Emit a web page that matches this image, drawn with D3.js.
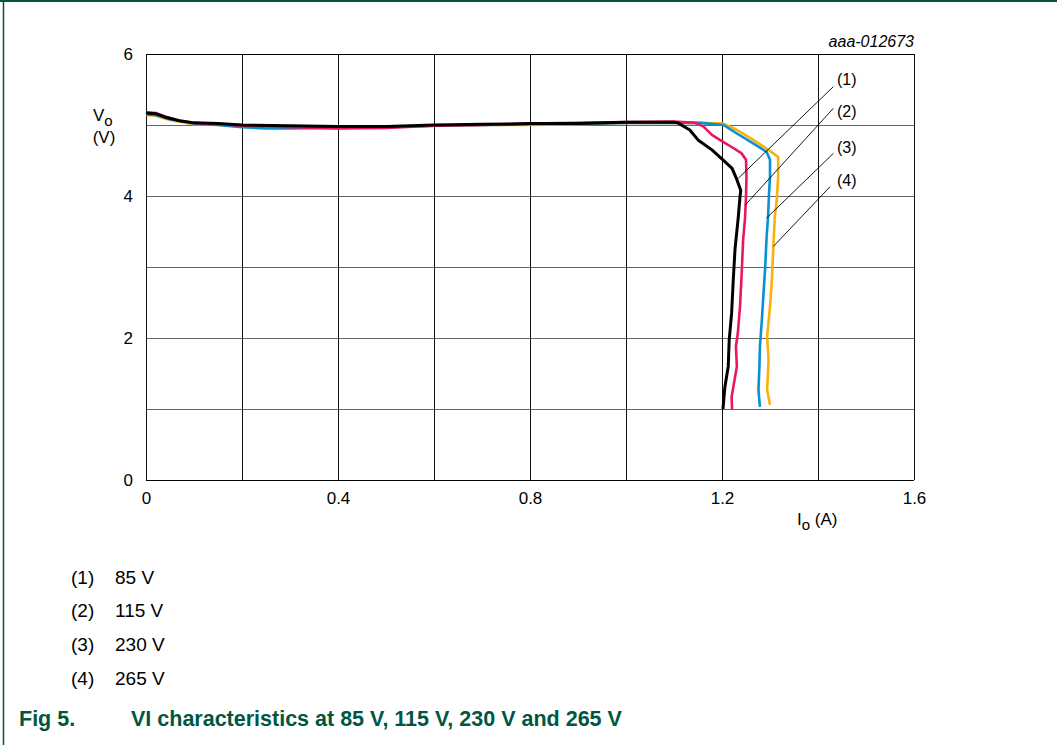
<!DOCTYPE html>
<html>
<head>
<meta charset="utf-8">
<script src="https://cdn.jsdelivr.net/npm/d3@7"></script>
<style>
  html, body { margin: 0; padding: 0; background: #fff; }
  svg { display: block; font-family: Arial, "Liberation Sans", Helvetica, sans-serif; }
</style>
</head>
<body>
<svg id="chart" width="1057" height="745"></svg>
<script>
// ---- data ----
const xTickLabels = [0, 0.4, 0.8, 1.2, 1.6];
const yTickLabels = [0, 2, 4, 6];
const xGrid = [0, 0.2, 0.4, 0.6, 0.8, 1.0, 1.2, 1.4, 1.6];
const yGrid = [0, 1, 2, 3, 4, 5, 6];

const seriesNames = ["(1)", "(2)", "(3)", "(4)"];
const seriesVoltages = ["85 V", "115 V", "230 V", "265 V"];
const seriesColors = ["#000000", "#ea1660", "#0a90d4", "#f8b10d"];

// [Io (A), Vo (V)]
const curve85 = [[0,5.17],[0.02,5.16],[0.04,5.11],[0.07,5.06],[0.1,5.03],[0.15,5.02],[0.2,5.0],[0.3,4.99],[0.4,4.98],[0.5,4.98],[0.6,5.0],[0.7,5.01],[0.8,5.02],[0.9,5.02],[1.0,5.04],[1.1,5.04],[1.108,5.03],[1.133,4.93],[1.15,4.79],[1.179,4.65],[1.202,4.51],[1.221,4.39],[1.231,4.23],[1.239,4.08],[1.2375,3.99],[1.234,3.71],[1.227,3.24],[1.2235,2.82],[1.22,2.35],[1.215,1.97],[1.213,1.6],[1.206,1.31],[1.202,1.0]];
const curve115 = [[0,5.18],[0.02,5.17],[0.04,5.12],[0.07,5.06],[0.1,5.03],[0.15,5.01],[0.2,4.99],[0.3,4.97],[0.4,4.95],[0.5,4.96],[0.6,4.99],[0.7,5.0],[0.8,5.02],[0.9,5.03],[1.0,5.04],[1.1,5.05],[1.144,5.03],[1.161,4.98],[1.179,4.86],[1.203,4.76],[1.22,4.69],[1.241,4.6],[1.25,4.51],[1.251,4.27],[1.25,3.99],[1.248,3.69],[1.244,3.38],[1.241,2.91],[1.2375,2.44],[1.233,2.07],[1.229,1.88],[1.231,1.6],[1.22,1.17],[1.221,0.99]];
const curve230 = [[0,5.15],[0.02,5.14],[0.05,5.08],[0.1,5.02],[0.15,5.0],[0.2,4.97],[0.25,4.95],[0.3,4.95],[0.4,4.96],[0.5,4.97],[0.6,4.99],[0.7,5.0],[0.8,5.01],[0.9,5.02],[1.0,5.03],[1.1,5.03],[1.154,5.03],[1.203,5.0],[1.231,4.88],[1.265,4.74],[1.293,4.62],[1.3,4.51],[1.3,4.27],[1.298,4.04],[1.296,3.71],[1.293,3.43],[1.29,3.0],[1.286,2.58],[1.283,2.25],[1.279,1.88],[1.278,1.6],[1.276,1.27],[1.279,1.03]];
const curve265 = [[0,5.14],[0.02,5.13],[0.05,5.07],[0.1,5.01],[0.15,5.0],[0.2,4.98],[0.3,4.97],[0.4,4.96],[0.5,4.97],[0.6,4.99],[0.7,5.0],[0.8,5.0],[0.9,5.01],[1.0,5.03],[1.1,5.03],[1.154,5.03],[1.203,5.02],[1.231,4.93],[1.265,4.79],[1.297,4.65],[1.317,4.55],[1.317,4.27],[1.314,3.94],[1.31,3.71],[1.307,3.29],[1.304,2.82],[1.3,2.44],[1.294,2.02],[1.297,1.69],[1.294,1.27],[1.3,1.06]];
const curves = [curve85, curve115, curve230, curve265];

// leader lines: [label anchor Io, Vo] -> [curve point Io, Vo]
const leaderStart = [[1.432,5.54],[1.432,5.235],[1.432,4.60],[1.425,4.13]];
const leaderEnd   = [[1.234,4.25],[1.248,3.87],[1.293,3.69],[1.307,3.29]];
const labelPos    = [[1.46,5.64],[1.46,5.185],[1.46,4.69],[1.46,4.22]];

const figNumber = "Fig 5.";
const figTitle = "VI characteristics at 85 V, 115 V, 230 V and 265 V";
const chartCode = "aaa-012673";

// ---- drawing ----
const svg = d3.select("#chart");
const green = "#00573f";
const FONT = "Arial, 'Liberation Sans', sans-serif";

// page frame (top + left)
svg.append("line").attr("x1", 0).attr("x2", 1057).attr("y1", 1).attr("y2", 1).attr("stroke", green).attr("stroke-width", 2);
svg.append("line").attr("x1", 3.5).attr("x2", 3.5).attr("y1", 0).attr("y2", 745).attr("stroke", green).attr("stroke-width", 1.5);

const x = d3.scaleLinear().domain([0, 1.6]).range([146, 914]);
const y = d3.scaleLinear().domain([0, 6]).range([480, 54]);

const g = svg.append("g");

// grid
g.selectAll(".hg").data(yGrid).enter().append("line")
  .attr("x1", x(0)).attr("x2", x(1.6))
  .attr("y1", d => Math.round(y(d)) + 0.5).attr("y2", d => Math.round(y(d)) + 0.5)
  .attr("stroke", d => (d === 0 || d === 6) ? "#000" : "#666").attr("stroke-width", 1);
g.selectAll(".vg").data(xGrid).enter().append("line")
  .attr("x1", d => Math.round(x(d)) + 0.5).attr("x2", d => Math.round(x(d)) + 0.5)
  .attr("y1", y(6)).attr("y2", y(0))
  .attr("stroke", "#111").attr("stroke-width", 1);

// axes labels via d3 axes (tick lines hidden)
const xAxis = d3.axisBottom(x).tickValues(xTickLabels).tickSize(0).tickPadding(12)
  .tickFormat(d => d === 0 ? "0" : d3.format(".1f")(d));
const xa = svg.append("g").attr("transform", `translate(0,${y(0)})`).call(xAxis);
xa.select(".domain").remove();
xa.selectAll("text").attr("font-size", 17).attr("font-family", FONT).attr("fill", "#000");

const yAxis = d3.axisLeft(y).tickValues(yTickLabels).tickSize(0).tickPadding(13).tickFormat(d3.format("d"));
const ya = svg.append("g").attr("transform", `translate(${x(0)},0)`).call(yAxis);
ya.select(".domain").remove();
ya.selectAll("text").attr("font-size", 17).attr("font-family", FONT).attr("fill", "#000");

// axis titles
const yt = svg.append("text").attr("x", 93).attr("y", 121).attr("font-size", 17).attr("fill", "#000");
yt.append("tspan").text("V");
yt.append("tspan").attr("dy", 5).attr("font-size", 15).text("o");
svg.append("text").attr("x", 104).attr("y", 143).attr("text-anchor", "middle").attr("font-size", 17).attr("fill", "#000").text("(V)");

const xt = svg.append("text").attr("x", 797).attr("y", 525).attr("font-size", 17).attr("fill", "#000");
xt.append("tspan").text("I");
xt.append("tspan").attr("dy", 5).attr("font-size", 15).text("o");
xt.append("tspan").attr("dy", -5).text(" (A)");

// chart code
svg.append("text").attr("x", 914).attr("y", 47).attr("text-anchor", "end")
  .attr("font-size", 16).attr("font-style", "italic").attr("fill", "#000").text(chartCode);

// curves (draw 265 first, 85 last)
const line = d3.line().x(d => x(d[0])).y(d => y(d[1]));
const order = [3, 2, 1, 0];
order.forEach(i => {
  g.append("path").datum(curves[i])
    .attr("d", line)
    .attr("fill", "none")
    .attr("stroke", seriesColors[i])
    .attr("stroke-width", i === 0 ? 3 : 2.6)
    .attr("stroke-linejoin", "round");
});

// leader lines + labels
seriesNames.forEach((n, i) => {
  svg.append("line")
    .attr("x1", x(leaderStart[i][0])).attr("y1", y(leaderStart[i][1]))
    .attr("x2", x(leaderEnd[i][0])).attr("y2", y(leaderEnd[i][1]))
    .attr("stroke", "#000").attr("stroke-width", 0.9);
  svg.append("text")
    .attr("x", x(labelPos[i][0])).attr("y", y(labelPos[i][1]) + 5.5)
    .attr("text-anchor", "middle").attr("font-size", 16).attr("fill", "#000").text(n);
});

// legend below
const legY = [584, 617, 651, 685];
seriesNames.forEach((n, i) => {
  svg.append("text").attr("x", 71).attr("y", legY[i]).attr("font-size", 19).attr("fill", "#000").text(n);
  svg.append("text").attr("x", 115).attr("y", legY[i]).attr("font-size", 19).attr("fill", "#000").text(seriesVoltages[i]);
});

// figure caption
svg.append("text").attr("x", 19).attr("y", 726).attr("font-size", 21.5).attr("font-weight", "bold").attr("fill", green).text(figNumber);
svg.append("text").attr("x", 131).attr("y", 726).attr("font-size", 21.5).attr("font-weight", "bold").attr("fill", green).text(figTitle);
</script>
</body>
</html>
